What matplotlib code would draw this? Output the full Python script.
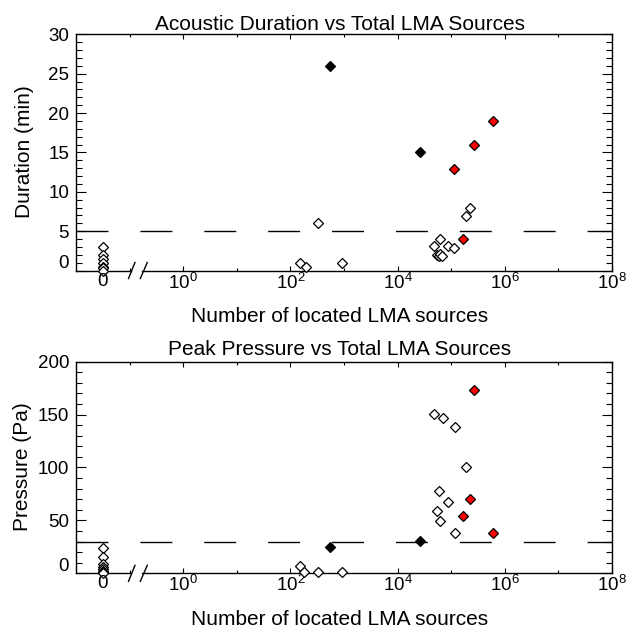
import numpy as np
import matplotlib
matplotlib.use("Agg")
import matplotlib.pyplot as plt
from matplotlib.transforms import blended_transform_factory
from matplotlib.ticker import FixedLocator, NullFormatter

plt.rcParams['font.family'] = ['Liberation Sans', 'DejaVu Sans']
plt.rcParams['mathtext.fontset'] = 'custom'
plt.rcParams['mathtext.rm'] = 'Liberation Sans'
plt.rcParams['mathtext.it'] = 'Liberation Sans'
plt.rcParams['lines.scale_dashes'] = False

# ---------------- data ----------------
# Panel 1: acoustic duration (min) vs number of located LMA sources
dur_zero_y = [3.0, 2.0, 1.5, 1.0, 0.5, 0.3, 0.0]
dur_open_x = [152, 195, 333, 912, 55000, 58000, 62000, 66000,
              62000, 47000, 87000, 115000, 190000, 225000]
dur_open_y = [0.9, 0.4, 6.0, 0.9, 2.0, 1.9, 2.1, 1.9,
              4.0, 3.1, 3.1, 2.9, 6.9, 8.0]
dur_black_x = [550, 25700]
dur_black_y = [26.0, 15.0]
dur_red_x = [114000, 265000, 600000, 163000]
dur_red_y = [12.9, 16.0, 19.0, 4.0]
dur_threshold = 5.0

# Panel 2: peak pressure (Pa) vs number of located LMA sources
pr_zero_y = [24, 15, 9, 6, 4, 2, 1, 0]
pr_open_x = [152, 182, 333, 912, 47900, 70800, 117000, 190000,
             60000, 87000, 54000, 62000, 117000]
pr_open_y = [7, 1.5, 1.5, 1.5, 151, 147, 138, 100,
             78, 67, 59, 49, 38]
pr_black_x = [550, 26300]
pr_black_y = [25, 30.5]
pr_red_x = [263000, 225000, 163000, 600000]
pr_red_y = [173, 70, 54, 38]
pr_threshold = 30.0

major_x = [1, 1e2, 1e4, 1e6, 1e8]
major_x_labels = [r'$10^{0}$', r'$10^{2}$', r'$10^{4}$', r'$10^{6}$', r'$10^{8}$']
minor_x = [1e-1, 1e1, 1e3, 1e5, 1e7]

ZERO_POS = -1.5  # where events with zero sources are shown (log10 units)


def fwd(x):
    x = np.asarray(x, dtype=float)
    safe = np.where(x > 0, x, 1.0)
    return np.where(x > 0, np.log10(safe), ZERO_POS)


def inv(y):
    return 10.0 ** np.asarray(y, dtype=float)


W, H = 626, 631
fig = plt.figure(figsize=(W / 100, H / 100), dpi=100)


def px_axes(left, top, right, bottom):
    return fig.add_axes([left / W, 1 - bottom / H, (right - left) / W, (bottom - top) / H])


def setup(ax, ylim, ymajor, yminor, zero_y, open_x, open_y, black_x, black_y,
          red_x, red_y, thr, height_px):
    ax.set_xscale('function', functions=(fwd, inv))
    ax.set_xlim(1e-2, 1e8)
    ax.set_ylim(*ylim)
    ax.xaxis.set_major_locator(FixedLocator(major_x))
    ax.set_xticklabels(major_x_labels)
    ax.xaxis.set_minor_locator(FixedLocator(minor_x))
    ax.xaxis.set_minor_formatter(NullFormatter())
    ax.set_yticks(ymajor)
    ax.set_yticklabels(['' if v == 0 else str(v) for v in ymajor])
    ax.yaxis.set_minor_locator(FixedLocator(yminor))
    ax.tick_params(axis='x', which='major', direction='in', length=3.5, width=0.8,
                   top=True, bottom=True, labelsize=13.5, pad=1.5)
    ax.tick_params(axis='x', which='minor', direction='in', length=2, width=0.8,
                   top=True, bottom=True)
    ax.tick_params(axis='y', which='major', direction='in', length=7.5, width=0.8,
                   left=True, right=True, labelsize=13.5, pad=5)
    ax.tick_params(axis='y', which='minor', direction='in', length=4, width=0.8,
                   left=True, right=True)
    for s in ['top', 'left', 'right']:
        ax.spines[s].set_linewidth(1.0)
    ax.spines['bottom'].set_visible(False)

    # "0" y tick label (slightly raised as in the original)
    ax.annotate('0', xy=(0, 0), xycoords=blended_transform_factory(ax.transAxes, ax.transData),
                xytext=(-5, 5), textcoords='offset points', ha='right', va='center',
                fontsize=13.5)
    # "0" x label for zero-source events
    ax.annotate('0', xy=(0, 0), xycoords=blended_transform_factory(ax.transData, ax.transAxes),
                xytext=(0, -1.5), textcoords='offset points', ha='center', va='top',
                fontsize=13.5)

    # broken bottom axis
    tb = blended_transform_factory(ax.transData, ax.transAxes)
    ax.plot([1e-2, 10 ** -0.97], [0, 0], color='black', lw=1.0, transform=tb, clip_on=False)
    ax.plot([10 ** -0.76, 1e8], [0, 0], color='black', lw=1.0, transform=tb, clip_on=False)
    d = 8.0 / height_px
    for a, b in [(-1.02, -0.90), (-0.80, -0.67)]:
        ax.plot([10 ** a, 10 ** b], [-d, d], color='black', lw=1.0, transform=tb, clip_on=False)

    ax.axhline(thr, color='black', lw=1.0, dashes=(23, 23))

    mk = dict(marker='D', linestyle='none', markersize=5.0, markeredgewidth=0.9,
              markeredgecolor='black', clip_on=False)
    ax.plot(np.zeros(len(zero_y)), zero_y, markerfacecolor='white', **mk)
    ax.plot(open_x, open_y, markerfacecolor='white', **mk)
    ax.plot(black_x, black_y, markerfacecolor='black', **mk)
    ax.plot(red_x, red_y, markerfacecolor='#ff0000', **mk)


ax1 = px_axes(76, 34.3, 612, 270.5)
setup(ax1, (0, 30), [0, 5, 10, 15, 20, 25, 30], [v for v in range(0, 31) if v % 5],
      dur_zero_y, dur_open_x, dur_open_y, dur_black_x, dur_black_y,
      dur_red_x, dur_red_y, dur_threshold, 236.2)

ax2 = px_axes(76, 361.7, 612, 573.3)
setup(ax2, (0, 200), [0, 50, 100, 150, 200], [v for v in range(0, 201, 10) if v % 50],
      pr_zero_y, pr_open_x, pr_open_y, pr_black_x, pr_black_y,
      pr_red_x, pr_red_y, pr_threshold, 211.6)

fs = 15


def ftext(x, y, s, **kw):
    fig.text(x / W, 1 - y / H, s, fontsize=fs, **kw)


ftext(340, 30, 'Acoustic Duration vs Total LMA Sources', ha='center', va='baseline')
ftext(340, 322, 'Number of located LMA sources', ha='center', va='baseline')
ftext(340, 355, 'Peak Pressure vs Total LMA Sources', ha='center', va='baseline')
ftext(340, 625, 'Number of located LMA sources', ha='center', va='baseline')
ftext(34, 152, 'Duration (min)', ha='center', va='bottom', rotation=90, rotation_mode='anchor')
ftext(32, 467, 'Pressure (Pa)', ha='center', va='bottom', rotation=90, rotation_mode='anchor')

fig.savefig('out.png', dpi=100)
